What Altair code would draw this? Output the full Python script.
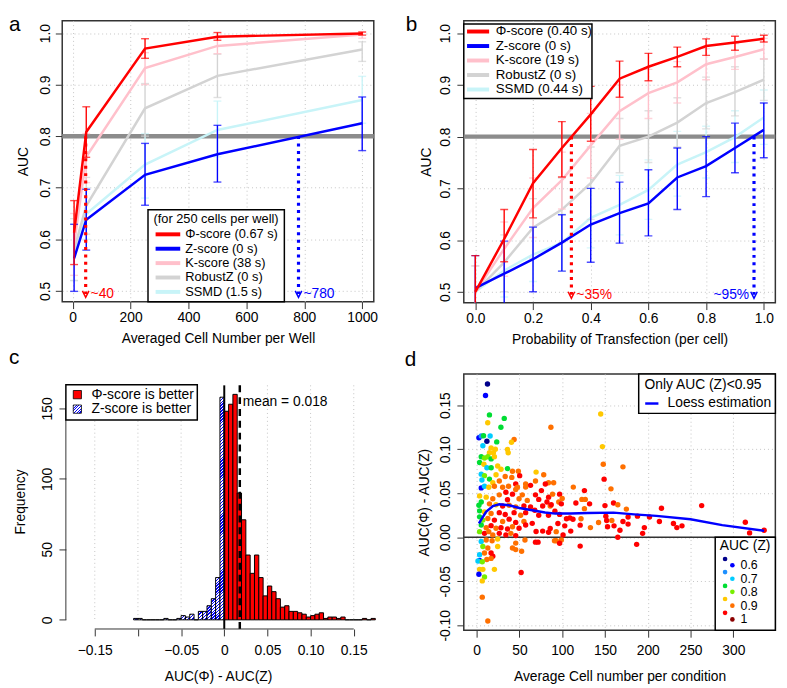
import altair as alt
import pandas as pd

FONT = "Liberation Sans"
GRIDC = "#c4c4c4"
TICKC = "#333333"

# ---------------- panel a : AUC vs averaged cell number ----------------
a_cells = [5, 47, 250, 500, 1000]
a_phi_mean = [0.613, 0.808, 0.970, 0.993, 0.999]
a_phi_lo = [0.551, 0.759, 0.951, 0.986, 0.996]
a_phi_hi = [0.675, 0.857, 0.989, 1.001, 1.002]
a_z_mean = [0.563, 0.638, 0.725, 0.765, 0.825]
a_z_lo = [0.499, 0.579, 0.666, 0.711, 0.772]
a_z_hi = [0.629, 0.697, 0.786, 0.821, 0.876]
a_k_mean = [0.590, 0.760, 0.932, 0.975, 0.997]
a_k_lo = [0.530, 0.710, 0.900, 0.960, 0.990]
a_k_hi = [0.650, 0.805, 0.962, 0.990, 1.002]
a_r_mean = [0.580, 0.665, 0.854, 0.917, 0.968]
a_r_lo = [0.520, 0.610, 0.800, 0.875, 0.945]
a_r_hi = [0.640, 0.720, 0.902, 0.959, 0.983]
a_s_mean = [0.575, 0.649, 0.745, 0.812, 0.870]
a_s_lo = [0.520, 0.600, 0.680, 0.760, 0.825]
a_s_hi = [0.630, 0.700, 0.805, 0.868, 0.916]
a_names = ["Φ-score (0.67 s)", "Z-score (0 s)", "K-score (38 s)", "RobustZ (0 s)", "SSMD (1.5 s)"]
a_legend_title = "(for 250 cells per well)"
a_cut_x = [45, 780]
a_cut_label = ["~40", "~780"]

# ---------------- panel b : AUC vs probability of transfection ----------------
b_prob = [0.0, 0.1, 0.2, 0.3, 0.4, 0.5, 0.6, 0.7, 0.8, 0.9, 1.0]
b_phi_mean = [0.500, 0.602, 0.710, 0.778, 0.843, 0.912, 0.935, 0.954, 0.975, 0.982, 0.989]
b_phi_lo = [0.430, 0.558, 0.643, 0.722, 0.791, 0.876, 0.908, 0.935, 0.957, 0.967, 0.983]
b_phi_hi = [0.570, 0.659, 0.775, 0.829, 0.897, 0.946, 0.961, 0.973, 0.989, 0.994, 0.996]
b_z_mean = [0.507, 0.535, 0.563, 0.595, 0.630, 0.652, 0.671, 0.721, 0.743, 0.778, 0.813]
b_z_lo = [0.443, 0.472, 0.500, 0.540, 0.557, 0.594, 0.608, 0.659, 0.684, 0.730, 0.759]
b_z_hi = [0.570, 0.598, 0.625, 0.649, 0.700, 0.712, 0.736, 0.778, 0.800, 0.826, 0.865]
b_k_mean = [0.500, 0.583, 0.662, 0.716, 0.783, 0.849, 0.884, 0.905, 0.940, 0.954, 0.969]
b_k_lo = [0.450, 0.530, 0.605, 0.660, 0.720, 0.795, 0.835, 0.865, 0.910, 0.930, 0.950]
b_k_hi = [0.550, 0.635, 0.720, 0.770, 0.845, 0.900, 0.930, 0.945, 0.970, 0.980, 0.990]
b_r_mean = [0.500, 0.557, 0.624, 0.659, 0.710, 0.782, 0.800, 0.827, 0.865, 0.886, 0.910]
b_r_lo = [0.450, 0.500, 0.565, 0.595, 0.640, 0.730, 0.750, 0.780, 0.815, 0.840, 0.870]
b_r_hi = [0.550, 0.610, 0.680, 0.720, 0.780, 0.835, 0.850, 0.875, 0.915, 0.935, 0.950]
b_s_mean = [0.500, 0.541, 0.572, 0.595, 0.643, 0.668, 0.697, 0.746, 0.770, 0.799, 0.837]
b_s_lo = [0.450, 0.490, 0.520, 0.540, 0.585, 0.610, 0.640, 0.685, 0.720, 0.750, 0.785]
b_s_hi = [0.550, 0.595, 0.625, 0.650, 0.700, 0.725, 0.755, 0.810, 0.820, 0.850, 0.890]
b_names = ["Φ-score (0.40 s)", "Z-score (0 s)", "K-score (19 s)", "RobustZ (0 s)", "SSMD (0.44 s)"]
b_cut_x = [0.333, 0.966]
b_cut_label = ["~35%", "~95%"]

# ---------------- panel c : histogram of AUC differences ----------------
c_bin_left = [-0.105, -0.100, -0.095, -0.090, -0.085, -0.080, -0.075, -0.070, -0.065, -0.060,
              -0.055, -0.050, -0.045, -0.040, -0.035, -0.030, -0.025, -0.020, -0.015, -0.010,
              -0.005, 0.000, 0.005, 0.010, 0.015, 0.020, 0.025, 0.030, 0.035, 0.040,
              0.045, 0.050, 0.055, 0.060, 0.065, 0.070, 0.075, 0.080, 0.085, 0.090,
              0.095, 0.100, 0.105, 0.110, 0.115, 0.120, 0.125, 0.130, 0.135, 0.140,
              0.145, 0.150, 0.155, 0.160, 0.165, 0.170]
c_counts = [1, 1, 0, 0, 0, 0, 0, 1, 0, 0,
            1, 3, 2, 4, 0, 6, 6, 10, 15, 30,
            158, 148, 153, 160, 90, 71, 46, 33, 46, 30,
            17, 24, 20, 15, 9, 10, 6, 6, 5, 4,
            2, 3, 4, 5, 1, 2, 2, 1, 2, 0,
            0, 0, 0, 1, 0, 1]
c_bin_width = 0.005
c_mean = 0.018
c_ticks = [-0.15, -0.10, -0.05, 0.0, 0.05, 0.10, 0.15]
c_legend = ["Φ-score is better", "Z-score is better"]

# ---------------- panel d : scatter of AUC differences ----------------
d_x = [145, 147, 148, 149, 171, 263, 314, 319, 336, 187,
       165, 121, 52, 90, 84, 113, 126, 157, 97, 100,
       123, 127, 96, 99, 116, 132, 160, 165, 150, 175,
       216, 126, 86, 91.5, 84, 97, 105, 109, 112.6, 122,
       151, 152, 158, 171, 177, 188, 202, 213.6, 95, 103,
       121, 133, 142.5, 153, 160.6, 167.5, 177, 196, 194, 86,
       93, 101, 110, 93, 99, 97, 230, 234, 240,
       12.7, 10.4, 15, 13, 32.3, 28.4, 86.8, 2.7, 5.4, 8.1,
       15.8, 12, 23.5, 7.3, 43.8, 40.7, 16.9, 21.9, 36.1, 15,
       19.6, 36.9, 5.4, 9.2, 13.1, 17, 20.8, 3.5, 8.5, 24.6,
       12, 17, 36.1, 28.5, 41.9, 48.8, 69.5, 78.4, 5.4, 9.2,
       22.7, 33.4, 41.1, 50.3, 68.8, 6.2, 15, 26.5, 18.9, 45.7,
       57.3, 80.3, 5.4, 9.2, 14.2, 20.8, 30.4, 37.3, 47.7, 63,
       45.7, 57.3, 34.2, 26.5, 41.9, 53.4, 68.8, 75.7, 84.1, 88.7,
       3.5, 11.2, 18.9, 36.1, 49.6, 59.2, 72.6, 82.2, 87.2, 5.4,
       2.7, 15, 22.7, 30.4, 38, 45.7, 55.3, 63, 68, 77.2,
       3.5, 9.2, 16.9, 26.5, 33.4, 43.8, 51.5, 57.3, 72.6, 3.5,
       7.3, 13.1, 20.8, 30.4, 38, 45.7, 55.3, 65, 69.5, 77.2,
       84.1, 5.4, 11.2, 16.9, 22.7, 28.5, 36.1, 41.9, 49.6, 57.3,
       3.5, 9.2, 14.2, 18.9, 26.5, 34.2, 40, 45.7, 5.4, 11.2,
       18.1, 24.6, 45.7, 56.5, 68.8, 71.8, 91, 7.3, 13.1, 24.6,
       41.9, 45.7, 52.6, 3.5, 9.2, 16.9, 18.9, 11.9, 3.5, 1.6,
       6.6, 16.9, 7.3, 3.5, 20.8, 2.7, 9.2, 6.6, 6.6, 13.1]
d_y = [0.140, 0.103, 0.083, 0.066, 0.080, 0.036, 0.017, 0.005, 0.008, -0.008,
       0.000, -0.010, -0.040, 0.062, 0.062, 0.057, 0.053, 0.055, 0.049, 0.044,
       0.043, 0.043, 0.040, 0.038, 0.039, 0.038, 0.039, 0.037, 0.036, 0.032,
       0.033, 0.0325, 0.0355, 0.0295, 0.025, 0.026, 0.021, 0.022, 0.0205, 0.021,
       0.024, 0.019, 0.019, 0.018, 0.023, 0.024, 0.023, 0.018, 0.0157, 0.013,
       0.0138, 0.011, 0.0168, 0.012, 0.013, 0.008, 0.015, 0.011, 0.0045, 0.010,
       0.0064, 0.0026, 0.007, -0.004, -0.003, -0.0067, 0.0157, 0.011, 0.013,
       0.174, 0.161, 0.139, 0.130, 0.135, 0.125, 0.125, 0.113, 0.115, 0.1153,
       0.115, 0.109, 0.1083, 0.104, 0.111, 0.108, 0.1015, 0.100, 0.0997, 0.096,
       0.096, 0.096, 0.0915, 0.090, 0.0915, 0.089, 0.0915, 0.085, 0.0829, 0.081,
       0.079, 0.079, 0.078, 0.0773, 0.075, 0.075, 0.074, 0.071, 0.0717, 0.070,
       0.071, 0.069, 0.068, 0.070, 0.064, 0.065, 0.0661, 0.064, 0.062, 0.0605,
       0.0605, 0.0605, 0.0561, 0.058, 0.0568, 0.058, 0.0568, 0.058, 0.0568, 0.059,
       0.0542, 0.057, 0.0512, 0.0482, 0.049, 0.0482, 0.0482, 0.053, 0.0456, 0.049,
       0.047, 0.0456, 0.0437, 0.0426, 0.0437, 0.0419, 0.043, 0.040, 0.037, 0.040,
       0.0363, 0.038, 0.037, 0.0355, 0.0363, 0.0344, 0.0355, 0.0344, 0.0307, 0.0355,
       0.030, 0.0288, 0.027, 0.028, 0.0258, 0.028, 0.025, 0.028, 0.025, 0.0232,
       0.0195, 0.0213, 0.0195, 0.018, 0.0206, 0.0169, 0.018, 0.0158, 0.0065, 0.007,
       0.0057, 0.0139, 0.0109, 0.0132, 0.0102, 0.0109, 0.0094, 0.012, 0.0102, 0.014,
       0.0064, 0.0045, 0.0064, 0.0027, 0.0045, 0.0027, 0.0045, 0.0019, -0.0047, -0.003,
       -0.004, -0.002, -0.0066, -0.003, -0.0055, -0.0055, -0.004, -0.0104, -0.0122, -0.0104,
       -0.0122, -0.014, -0.0159, -0.0197, -0.0178, -0.0178, -0.0215, -0.0252, -0.0264, -0.027,
       -0.0278, -0.024, -0.0364, -0.0364, -0.0364, -0.042, -0.045, -0.0495, -0.068, -0.095]
d_cls = ["y", "y", "o", "r", "o", "r", "r", "r", "r", "r",
         "r", "r", "r", "o", "o", "o", "r", "o", "r", "o",
         "o", "o", "o", "r", "r", "r", "r", "o", "r", "o",
         "r", "o", "o", "r", "r", "r", "r", "r", "r", "o",
         "r", "r", "o", "r", "r", "r", "r", "r", "r", "r",
         "r", "o", "o", "r", "r", "r", "r", "r", "r", "r",
         "o", "r", "r", "o", "o", "r", "r", "r", "r",
         "db", "b", "g", "y", "g", "g", "o", "b", "az", "g",
         "c", "db", "g", "c", "o", "y", "y", "y", "y", "y",
         "y", "y", "g", "lg", "lg", "g", "y", "g", "y", "y",
         "c", "g", "g", "y", "o", "o", "y", "o", "c", "lg",
         "y", "o", "o", "r", "o", "c", "g", "o", "y", "r",
         "o", "r", "b", "c", "y", "o", "o", "o", "o", "r",
         "o", "o", "r", "o", "r", "o", "r", "r", "r", "o",
         "y", "y", "o", "r", "o", "o", "r", "r", "r", "g",
         "g", "o", "y", "r", "o", "o", "r", "r", "r", "r",
         "g", "y", "o", "r", "r", "r", "o", "r", "r", "g",
         "lg", "o", "r", "o", "r", "r", "o", "r", "r", "r",
         "r", "g", "o", "r", "o", "r", "r", "o", "r", "r",
         "lg", "r", "o", "o", "r", "r", "o", "r", "c", "o",
         "o", "y", "o", "o", "r", "r", "o", "lg", "o", "y",
         "o", "o", "o", "c", "o", "r", "r", "o", "b", "c",
         "lg", "o", "y", "y", "y", "b", "lg", "y", "o", "o"]
d_loess_x = [2.7, 11, 19, 26.5, 38, 50, 65, 80, 92, 110, 130, 160, 184, 210, 250, 287, 336]
d_loess_y = [0.0157, 0.0288, 0.0355, 0.0374, 0.0363, 0.0333, 0.0307, 0.0282, 0.0269, 0.0270,
             0.0275, 0.0280, 0.0260, 0.0243, 0.0205, 0.0138, 0.0075]
d_cls_order = ["db", "b", "az", "c", "g", "lg", "y", "o", "r", "dr"]
d_cls_colors = ["#00008B", "#0000FF", "#1E90FF", "#00CCFF", "#00DD33",
                "#77EE00", "#FFC800", "#FF7000", "#FF0000", "#8B0000"]
d_legend_labels = ["0.6", "0.7", "0.8", "0.9", "1"]

SERIES_COLORS = ["#FF0000", "#0000FF", "#FFC0CB", "#D3D3D3", "#C8F4F8"]
CUT_COLORS = ["#FF0000", "#0000FF"]


def dummy():
    return alt.Chart(pd.DataFrame({"k": [0]}))


def hatch(w, h, period=3.0, frac=0.45):
    """diagonal '/' hatching as a linear gradient in bounding-box units"""
    w = max(w, 0.5)
    h = max(h, 0.5)
    k = (w + h) / (w * w + h * h)
    n = max(1, int(round((w + h) / period)))
    stops = []
    for i in range(n):
        a, b, c = i / n, (i + frac) / n, (i + 1) / n
        stops += [alt.GradientStop(offset=a, color="#0000FF"),
                  alt.GradientStop(offset=b, color="#0000FF"),
                  alt.GradientStop(offset=b, color="#FFFFFF"),
                  alt.GradientStop(offset=c, color="#FFFFFF")]
    return alt.LinearGradient(gradient="linear", stops=stops, x1=0, y1=0, x2=w * k, y2=h * k)


def series_layers(xs, m, lo, hi, color, X, Y, lw, clip):
    df = pd.DataFrame({"x": xs, "m": m, "lo": lo, "hi": hi})
    base = alt.Chart(df)
    return [
        base.mark_rule(color=color, strokeWidth=1.4, clip=clip).encode(
            x=X("x"), y=Y("lo"), y2="hi:Q"),
        base.mark_tick(color=color, orient="horizontal", size=8, thickness=1.4, clip=clip).encode(
            x=X("x"), y=Y("lo")),
        base.mark_tick(color=color, orient="horizontal", size=8, thickness=1.4, clip=clip).encode(
            x=X("x"), y=Y("hi")),
        base.mark_line(color=color, strokeWidth=lw, clip=clip).encode(
            x=X("x"), y=Y("m")),
    ]


def cut_layers(xs, labels, y_top, y_bot, X, Y, dxs, aligns):
    out = []
    for x, lab, col, dx, al in zip(xs, labels, CUT_COLORS, dxs, aligns):
        df = pd.DataFrame({"x": [x], "y1": [y_top], "y2": [y_bot], "t": [lab]})
        base = alt.Chart(df)
        out.append(base.mark_rule(color=col, strokeWidth=3.2, strokeDash=[3, 4.5]).encode(
            x=X("x"), y=Y("y1"), y2="y2:Q"))
        out.append(base.mark_point(shape="M-1,-1L0,1L1,-1", filled=False, color=col, size=44,
                                   strokeWidth=1.5, opacity=1).encode(x=X("x"), y=Y("y2")))
        out.append(base.mark_text(color=col, align=al, dx=dx, baseline="middle", fontSize=14).encode(
            x=X("x"), y=Y("y2"), text="t:N"))
    return out


def letter(ch, x, y, baseline):
    return alt.Chart(pd.DataFrame({"t": [ch]})).mark_text(
        align="left", baseline=baseline, fontSize=21).encode(
        x=alt.value(x), y=alt.value(y), text="t:N")


def box(x1, x2, y1, y2):
    return dummy().mark_rect(fill="white", stroke="black", strokeWidth=1.5).encode(
        x=alt.value(x1), x2=alt.value(x2), y=alt.value(y1), y2=alt.value(y2))


def line_legend(names, xl1, xl2, xt, y0, dy, fs, lw):
    out = []
    for i, (nm, col) in enumerate(zip(names, SERIES_COLORS)):
        yy = y0 + i * dy
        out.append(dummy().mark_rule(color=col, strokeWidth=lw).encode(
            x=alt.value(xl1), x2=alt.value(xl2), y=alt.value(yy)))
        out.append(dummy().mark_text(align="left", baseline="middle", fontSize=fs).encode(
            x=alt.value(xt), y=alt.value(yy), text=alt.value(nm)))
    return out


def gaxis(**kw):
    base = dict(grid=True, gridDash=[1, 3], gridColor=GRIDC, gridWidth=1, domain=False,
                tickSize=7, tickColor=TICKC, labelFlush=False, labelOverlap=False)
    base.update(kw)
    return alt.Axis(**base)


def yaxis_rot(**kw):
    return gaxis(labelAngle=-90, labelAlign="center", labelBaseline="bottom", **kw)


def enc_factory(channel, scale, axis):
    cls = alt.X if channel == "x" else alt.Y

    def f(field):
        return cls(field + ":Q", scale=scale, axis=axis)
    return f


# ================= panel a =================
A_X = alt.Scale(domain=[-36, 1040], nice=False, zero=False)
A_Y = alt.Scale(domain=[0.479, 1.024], nice=False, zero=False)
ax_a_x = gaxis(values=[0, 200, 400, 600, 800, 1000], format="d",
               title="Averaged Cell Number per Well", labelPadding=2, titlePadding=7)
ax_a_y = yaxis_rot(values=[0.5, 0.6, 0.7, 0.8, 0.9, 1.0], format=".1f", title="AUC",
                   labelPadding=3, titlePadding=8)
AX = enc_factory("x", A_X, ax_a_x)
AY = enc_factory("y", A_Y, ax_a_y)

a_layers = [
    alt.Chart(pd.DataFrame({"y": [0.8]})).mark_rule(color="#8c8c8c", strokeWidth=4.5).encode(
        y=AY("y")),
]
a_series = [(a_s_mean, a_s_lo, a_s_hi, 4), (a_r_mean, a_r_lo, a_r_hi, 3),
            (a_k_mean, a_k_lo, a_k_hi, 2), (a_z_mean, a_z_lo, a_z_hi, 1),
            (a_phi_mean, a_phi_lo, a_phi_hi, 0)]
for m, lo, hi, ci in a_series:
    a_layers += series_layers(a_cells, m, lo, hi, SERIES_COLORS[ci], AX, AY, 2.5, False)
a_layers += cut_layers(a_cut_x, a_cut_label, 0.8, 0.4937, AX, AY, [5, 5], ["left", "left"])
a_layers.append(box(87, 225.3, 191.7, 285))
a_layers.append(dummy().mark_text(align="center", baseline="middle", fontSize=13).encode(
    x=alt.value(156), y=alt.value(201.5), text=alt.value(a_legend_title)))
a_layers += line_legend(a_names, 94.7, 119.7, 124.7, 216.7, 14.6, 13, 4)
a_layers.append(letter("a", -54, -7, "top"))
panel_a = alt.layer(*a_layers).properties(width=316, height=285)

# ================= panel b =================
B_X = alt.Scale(domain=[-0.04, 1.04], nice=False, zero=False)
B_Y = alt.Scale(domain=[0.479, 1.0241], nice=False, zero=False)
ax_b_x = gaxis(values=[0.0, 0.2, 0.4, 0.6, 0.8, 1.0], format=".1f",
               title="Probability of Transfection (per cell)", labelPadding=2, titlePadding=7)
ax_b_y = yaxis_rot(values=[0.5, 0.6, 0.7, 0.8, 0.9, 1.0], format=".1f", title="AUC",
                   labelPadding=4, titlePadding=6)
BX = enc_factory("x", B_X, ax_b_x)
BY = enc_factory("y", B_Y, ax_b_y)
b_layers = [
    alt.Chart(pd.DataFrame({"y": [0.8]})).mark_rule(color="#8c8c8c", strokeWidth=4.5).encode(
        y=BY("y")),
]
b_series = [(b_s_mean, b_s_lo, b_s_hi, 4), (b_r_mean, b_r_lo, b_r_hi, 3),
            (b_k_mean, b_k_lo, b_k_hi, 2), (b_z_mean, b_z_lo, b_z_hi, 1),
            (b_phi_mean, b_phi_lo, b_phi_hi, 0)]
for m, lo, hi, ci in b_series:
    b_layers += series_layers(b_prob, m, lo, hi, SERIES_COLORS[ci], BX, BY, 2.5, True)
b_layers += cut_layers(b_cut_x, b_cut_label, 0.8, 0.4937, BX, BY, [5, -5], ["left", "right"])
b_layers.append(box(0, 130, 3.3, 79))
b_layers += line_legend(b_names, 3.3, 25.7, 32.3, 11, 14.7, 13.5, 4)
b_layers.append(letter("b", -59, -7, "top"))
panel_b = alt.layer(*b_layers).properties(width=316, height=286)

# ================= panel c =================
C_W, C_H = 316, 258.7
C_XD = [-0.1877, 0.1732]
C_YD = [-6.5, 174.5]
C_X = alt.Scale(domain=C_XD, nice=False, zero=False)
C_Y = alt.Scale(domain=C_YD, nice=False, zero=False)
c_px_x = C_W / (C_XD[1] - C_XD[0])
c_px_y = C_H / (C_YD[1] - C_YD[0])
c_df = pd.DataFrame({"x1": c_bin_left, "n": c_counts})
c_df["x2"] = c_df["x1"] + c_bin_width
c_df["y0"] = 0
c_label_expr = ("datum.value == 0 ? '0' : (abs(datum.value + 0.1) < 1e-9 ? '' : "
                "format(datum.value, '.2f'))")
ax_c_x = alt.Axis(values=c_ticks, labelExpr=c_label_expr, title="AUC(Φ) - AUC(Z)",
                  domain=False, grid=False, tickSize=7, tickColor=TICKC, labelPadding=8,
                  titlePadding=12, labelFlush=False, labelOverlap=False)
ax_c_y = alt.Axis(values=[0, 50, 100, 150], format="d", title="Frequency", domain=False,
                  grid=False, tickSize=7, tickColor=TICKC, offset=-3.7, labelAngle=-90,
                  labelAlign="center", labelBaseline="bottom", labelPadding=5, titlePadding=13,
                  labelFlush=False, labelOverlap=False)
CX = enc_factory("x", C_X, ax_c_x)
CY = enc_factory("y", C_Y, ax_c_y)
c_grid_df = pd.DataFrame({"x": [v for v in c_ticks if v != 0], "y1": 166.4, "y2": 0})
c_plain = c_df[(c_df["x1"] >= 0) | (c_df["n"] == 0)]
c_layers = [
    alt.Chart(c_grid_df).mark_rule(color=GRIDC, strokeDash=[1, 3]).encode(
        x=CX("x"), y=CY("y1"), y2="y2:Q"),
    alt.Chart(c_plain).mark_rect(stroke="black", strokeWidth=1, fill="#FF0000").encode(
        x=CX("x1"), x2="x2:Q", y=CY("n"), y2="y0:Q"),
]
# hatched (Z-score better) bars, one layer each so the hatching keeps its pixel spacing
for idx, row in c_df[(c_df["x1"] < 0) & (c_df["n"] > 0)].iterrows():
    w_px = c_bin_width * c_px_x
    h_px = row["n"] * c_px_y
    c_layers.append(alt.Chart(c_df.loc[[idx]]).mark_rect(
        stroke="black", strokeWidth=1, fill=hatch(w_px, h_px)).encode(
        x=CX("x1"), x2="x2:Q", y=CY("n"), y2="y0:Q"))
c_layers += [
    alt.Chart(pd.DataFrame({"x": [0.0], "y1": [166.4], "y2": [-6.5]})).mark_rule(
        color="black", strokeWidth=2).encode(x=CX("x"), y=CY("y1"), y2="y2:Q"),
    alt.Chart(pd.DataFrame({"x": [c_mean], "y1": [166.4], "y2": [-6.5]})).mark_rule(
        color="black", strokeWidth=2.5, strokeDash=[7, 5]).encode(x=CX("x"), y=CY("y1"), y2="y2:Q"),
    alt.Chart(pd.DataFrame({"x": [c_mean], "y": [154.2], "t": ["mean = 0.018"]})).mark_text(
        align="left", baseline="middle", dx=3, fontSize=14).encode(
        x=CX("x"), y=CY("y"), text="t:N"),
    # axis lines spanning only the tick range (R style)
    alt.Chart(pd.DataFrame({"x1": [c_ticks[0]], "x2": [c_ticks[-1]]})).mark_rule(
        color=TICKC, strokeWidth=1).encode(x=CX("x1"), x2="x2:Q", y=alt.value(C_H)),
    alt.Chart(pd.DataFrame({"y1": [0], "y2": [150]})).mark_rule(color=TICKC, strokeWidth=1).encode(
        y=CY("y1"), y2="y2:Q", x=alt.value(3.7)),
    box(3.7, 137, 11, 46.7),
    dummy().mark_rect(fill="#FF0000", stroke="black", strokeWidth=0.8).encode(
        x=alt.value(11.2), x2=alt.value(19.5), y=alt.value(16.8), y2=alt.value(25.2)),
    dummy().mark_rect(fill=hatch(8.3, 8.4), stroke="black", strokeWidth=0.8).encode(
        x=alt.value(11.2), x2=alt.value(19.5), y=alt.value(31.5), y2=alt.value(39.9)),
    dummy().mark_text(align="left", baseline="middle", fontSize=14).encode(
        x=alt.value(29.7), y=alt.value(21), text=alt.value(c_legend[0])),
    dummy().mark_text(align="left", baseline="middle", fontSize=14).encode(
        x=alt.value(29.7), y=alt.value(35.7), text=alt.value(c_legend[1])),
    letter("c", -54, -10.3, "alphabetic"),
]
panel_c = alt.layer(*c_layers).properties(width=C_W, height=C_H,
                                          view=alt.ViewBackground(stroke="transparent"))

# ================= panel d =================
D_X = alt.Scale(domain=[-14.98, 349.1], nice=False, zero=False)
D_Y = alt.Scale(domain=[-0.1056, 0.1855], nice=False, zero=False)
d_df = pd.DataFrame({"x": d_x, "y": d_y, "c": d_cls})
ax_d_x = gaxis(values=[0, 50, 100, 150, 200, 250, 300], format="d",
               title="Average Cell number per condition", labelPadding=6.5, titlePadding=12)
ax_d_y = yaxis_rot(values=[-0.10, -0.05, 0.0, 0.05, 0.10, 0.15],
                   labelExpr="replace(format(datum.value, '.2f'), '\u2212', '-')",
                   title="AUC(Φ) - AUC(Z)", labelPadding=4.3, titlePadding=7)
DX = enc_factory("x", D_X, ax_d_x)
DY = enc_factory("y", D_Y, ax_d_y)
d_layers = [
    alt.Chart(pd.DataFrame({"y": [0.0]})).mark_rule(color="#333333", strokeWidth=1.5).encode(
        y=DY("y")),
    alt.Chart(d_df).mark_circle(size=30, opacity=1).encode(
        x=DX("x"), y=DY("y"),
        color=alt.Color("c:N", scale=alt.Scale(domain=d_cls_order, range=d_cls_colors), legend=None)),
    alt.Chart(pd.DataFrame({"x": d_loess_x, "y": d_loess_y})).mark_line(
        color="#0000FF", strokeWidth=2.5).encode(x=DX("x"), y=DY("y")),
    box(177.4, 316, 0, 40),
    dummy().mark_text(align="left", baseline="middle", fontSize=14).encode(
        x=alt.value(183.4), y=alt.value(11), text=alt.value("Only AUC (Z)<0.95")),
    dummy().mark_rule(color="#0000FF", strokeWidth=2.5).encode(
        x=alt.value(184), x2=alt.value(197.4), y=alt.value(30)),
    dummy().mark_text(align="left", baseline="middle", fontSize=14).encode(
        x=alt.value(206.7), y=alt.value(30), text=alt.value("Loess estimation")),
    box(255, 316, 165.7, 260),
    dummy().mark_text(align="left", baseline="middle", fontSize=14).encode(
        x=alt.value(259.7), y=alt.value(174.5), text=alt.value("AUC (Z)")),
]
d_leg_y = [187.7, 194, 201, 207.7, 215, 221, 228.3, 235, 242.3, 249]
for i, col in enumerate(d_cls_colors):
    d_layers.append(dummy().mark_circle(size=22, color=col, opacity=1).encode(
        x=alt.value(265 if i % 2 == 0 else 272.4), y=alt.value(d_leg_y[i])))
for j, lab in enumerate(d_legend_labels):
    d_layers.append(dummy().mark_text(align="left", baseline="middle", fontSize=12.5).encode(
        x=alt.value(280.7), y=alt.value(d_leg_y[2 * j + 1]), text=alt.value(lab)))
d_layers.append(letter("d", -60, -8.3, "alphabetic"))
panel_d = alt.layer(*d_layers).properties(width=316, height=260)

chart = alt.concat(panel_a, panel_b, panel_c, panel_d, columns=2,
                   spacing={"row": 72.3, "column": 91.3}, bounds="flush").properties(
    padding=0
).configure_axis(
    labelFont=FONT, titleFont=FONT, labelFontSize=14, titleFontSize=14,
    titleFontWeight="normal", labelColor="black", titleColor="black"
).configure_view(stroke="#333333", strokeWidth=1.5).configure_text(font=FONT)

chart.save("out.html", embed_options={"renderer": "svg", "actions": False})
